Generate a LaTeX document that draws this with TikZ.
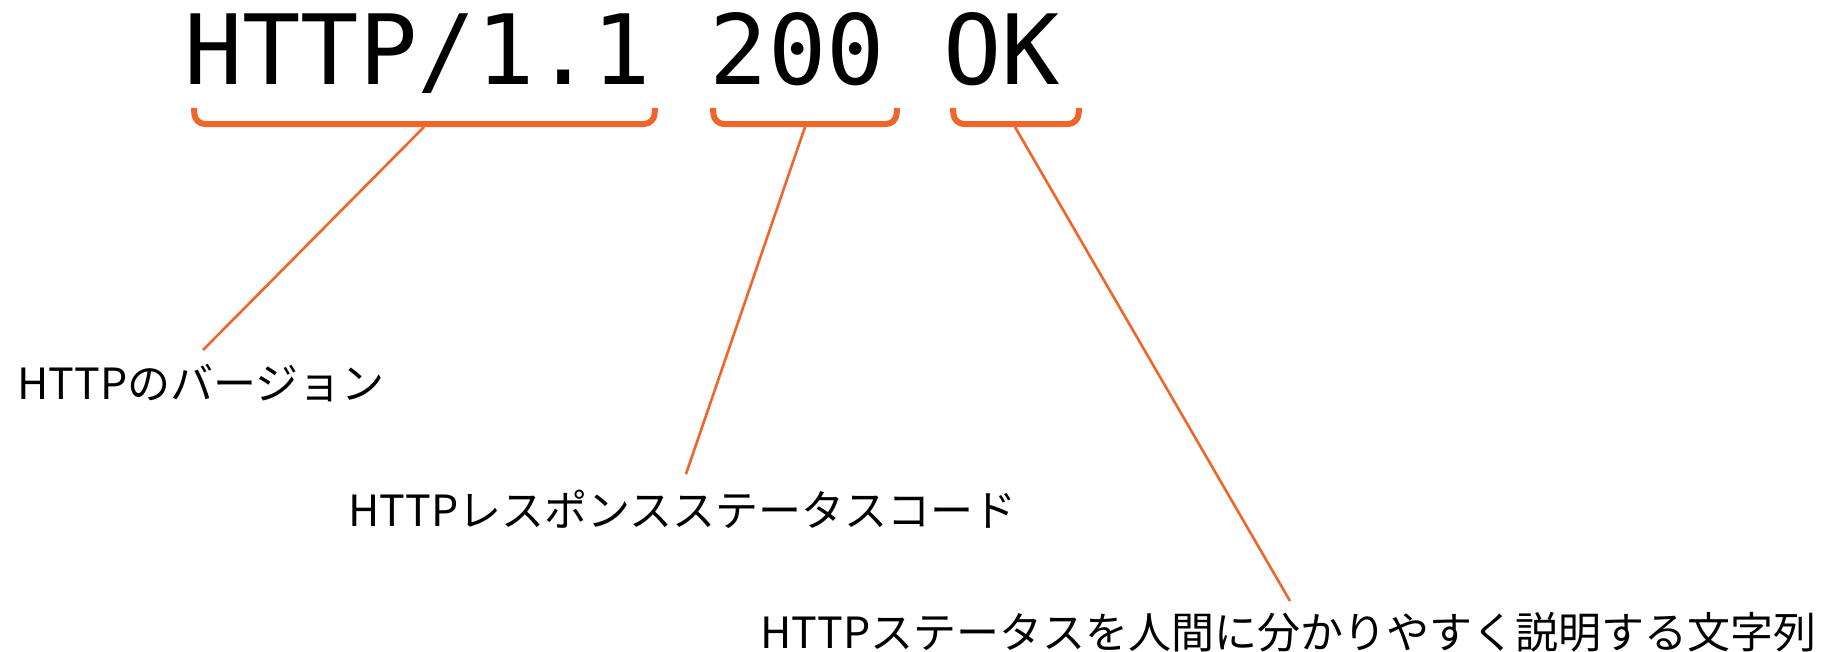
\documentclass[tikz,border=0pt]{standalone}
\usepackage{fontspec}
\setmonofont{DejaVu Sans Mono}
\newfontfamily\jpfont{Noto Sans CJK JP}
\definecolor{accent}{RGB}{240,102,42}
\begin{document}
\begin{tikzpicture}[x=1pt,y=-1pt,
  bracket/.style={draw=accent,line width=6pt,rounded corners=10pt},
  leader/.style={draw=accent,line width=2.6pt},
  label/.style={font=\jpfont\fontsize{43}{50}\selectfont,anchor=west,inner sep=0pt}]
\useasboundingbox (0,0) rectangle (1836,651);
\node[anchor=base west,inner sep=0pt,font=\ttfamily\fontsize{97}{100}\selectfont] (head) at (184,84) {HTTP/1.1 200 OK};
% brackets
\draw[bracket] (194,108) -- (195,124) -- (654,124) -- (655,108);
\draw[bracket] (713,108) -- (714,124) -- (896,124) -- (897,108);
\draw[bracket] (953,108) -- (954,124) -- (1078,124) -- (1079,108);
\coordinate (b1) at (424,127);
\coordinate (b2) at (805,127);
\coordinate (b3) at (1015,127);
% labels
\node[label] (l1) at (17,383) {HTTPのバージョン};
\node[label] (l2) at (348,509) {HTTPレスポンスステータスコード};
\node[label] (l3) at (760,632) {HTTPステータスを人間に分かりやすく説明する文字列};
\coordinate (e1) at (203,350);
\coordinate (e2) at (686,474);
\coordinate (e3) at (1290,601);
\draw[leader] (b1) -- (e1);
\draw[leader] (b2) -- (e2);
\draw[leader] (b3) -- (e3);
\end{tikzpicture}
\end{document}
